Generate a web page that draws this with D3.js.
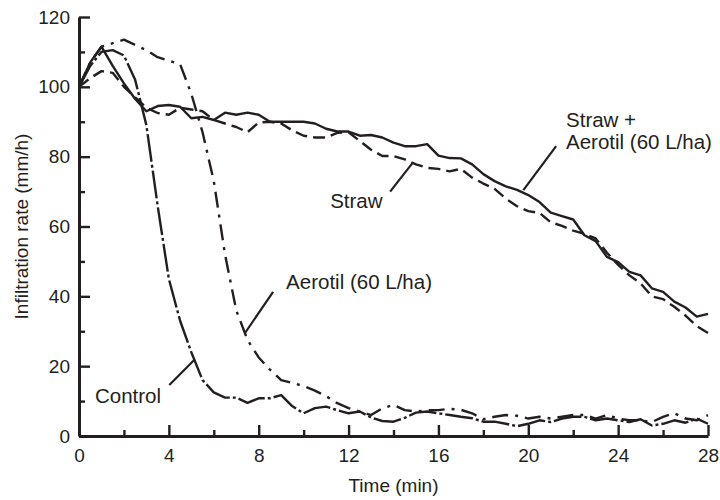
<!DOCTYPE html>
<html>
<head>
<meta charset="utf-8">
<script src="https://cdn.jsdelivr.net/npm/d3@7"></script>
<style>
  body { margin: 0; background: #fff; }
  svg { display: block; }
  text { font-family: "Liberation Sans", Arial, sans-serif; fill: #231f20; }
</style>
</head>
<body>
<div id="chart"></div>
<script>
// time (min), sampled every half minute
var times = [0, 0.5, 1, 1.5, 2, 2.5, 3, 3.5, 4, 4.5, 5, 5.5, 6, 6.5, 7, 7.5, 8, 8.5, 9, 9.5,
  10, 10.5, 11, 11.5, 12, 12.5, 13, 13.5, 14, 14.5, 15, 15.5, 16, 16.5, 17, 17.5, 18, 18.5, 19, 19.5,
  20, 20.5, 21, 21.5, 22, 22.5, 23, 23.5, 24, 24.5, 25, 25.5, 26, 26.5, 27, 27.5, 28];

// infiltration rate (mm/h)
var control = [100, 106, 110, 110.5, 109, 102, 89, 66, 45, 33, 24, 16, 12.5, 11, 11, 9.5, 10.8, 10.8, 11.7, 8.5,
  6.5, 8, 8.4, 7.4, 6.5, 7, 5.3, 4.3, 4.1, 5.2, 6.7, 7, 6.5, 6, 5.5, 5.1, 4.1, 4.1, 3.5, 2.8,
  3.5, 4.5, 4, 5, 5.5, 5.5, 4.5, 5, 4.5, 4, 4.8, 3, 3.5, 4.5, 3.8, 5, 3.5];
var aerotil = [100, 107, 111.5, 112.5, 113.5, 112, 110.5, 108.5, 107.5, 106.5, 98, 87, 73, 52, 36, 27.5, 22.5, 19, 16, 15.2,
  14.3, 13, 11.4, 9.4, 8, 7, 6, 7.9, 8.9, 7.4, 7, 7.4, 7.4, 7.8, 7.5, 6.5, 4.8, 5.5, 6, 5.8,
  5, 5.5, 5, 5.5, 6, 6, 5, 6, 5, 4.5, 4.5, 4, 5.5, 6.5, 5, 4.5, 6];
var straw = [100, 102.5, 104.5, 104, 100, 97, 94, 92.5, 92, 94, 93.5, 93, 90.5, 89.5, 88.5, 87, 89.8, 90, 89.5, 87.5,
  86, 85.5, 85.5, 86.8, 87, 84.5, 82, 80.2, 80.2, 79.2, 77.8, 76.8, 76.5, 75.8, 76.5, 74, 72.3, 70.8, 68, 65.8,
  64.4, 63.9, 61.2, 60.2, 58.8, 57.9, 56.6, 52.5, 49, 46, 43.7, 40, 39.2, 37, 34.5, 31.5, 29.5];
var strawAerotil = [100, 107, 111.5, 106, 101, 96.5, 93, 94.5, 94.8, 94.3, 91, 91.4, 90.5, 92.6, 92, 92.6, 92, 90, 90, 90,
  90, 89.5, 88, 87.2, 87.2, 86, 86.2, 85.5, 84, 83, 83, 83.6, 80.3, 79.6, 79.5, 77.8, 75, 73, 71.5, 70.5,
  69, 67, 64, 63, 62, 57.5, 55.8, 51.3, 49.8, 47, 46, 42.3, 41.3, 38.5, 36.8, 34.2, 35];

var xMajorTicks = [0, 4, 8, 12, 16, 20, 24, 28];
var xMinorTicks = [2, 6, 10, 14, 18, 22, 26];
var yMajorTicks = [0, 20, 40, 60, 80, 100, 120];
var yMinorTicks = [10, 30, 50, 70, 90, 110];

var width = 720,
  height = 500;

var x = d3.scaleLinear().domain([0, 28]).range([79, 708]);
var y = d3.scaleLinear().domain([0, 120]).range([436, 17]);

var svg = d3.select("#chart").append("svg")
  .attr("width", width)
  .attr("height", height);

var ink = "#231f20";

// series, each with its own dash style
var series = [
  {name: "Control", values: control, dash: "28,3,3,3"},
  {name: "Aerotil (60 L/ha)", values: aerotil, dash: "16,7,3,7"},
  {name: "Straw", values: straw, dash: "12,6"},
  {name: "Straw + Aerotil (60 L/ha)", values: strawAerotil, dash: null}
];

var line = d3.line()
  .x(function(d) { return x(d.t); })
  .y(function(d) { return y(d.v); });

series.forEach(function(s) {
  var pts = times.map(function(t, i) { return {t: t, v: s.values[i]}; });
  svg.append("path")
    .datum(pts)
    .attr("d", line)
    .style("fill", "none")
    .style("stroke", ink)
    .style("stroke-width", 2.4)
    .style("stroke-linejoin", "round")
    .style("stroke-dasharray", s.dash);
});

// axes (ticks point inward)
function styleAxis(g) {
  g.selectAll("line").style("stroke", ink).style("stroke-width", 2.4);
  g.selectAll("path").style("stroke", ink).style("stroke-width", 3);
  g.selectAll("text").style("font-size", "19px").style("fill", ink);
}

svg.append("g")
  .attr("transform", "translate(0,436)")
  .call(d3.axisBottom(x).tickValues(xMinorTicks).tickSize(-6).tickFormat(""))
  .call(function(g) { g.select(".domain").remove(); })
  .call(styleAxis);

svg.append("g")
  .attr("transform", "translate(0,436)")
  .call(d3.axisBottom(x).tickValues(xMajorTicks).tickSizeInner(-11).tickSizeOuter(0).tickPadding(12.5))
  .call(styleAxis);

svg.append("g")
  .attr("transform", "translate(79,0)")
  .call(d3.axisLeft(y).tickValues(yMinorTicks).tickSize(-6).tickFormat(""))
  .call(function(g) { g.select(".domain").remove(); })
  .call(styleAxis);

svg.append("g")
  .attr("transform", "translate(79,0)")
  .call(d3.axisLeft(y).tickValues(yMajorTicks).tickSizeInner(-11).tickSizeOuter(0).tickPadding(9))
  .call(styleAxis);

// axis titles
svg.append("text")
  .attr("x", (x(0) + x(28)) / 2)
  .attr("y", 492)
  .attr("text-anchor", "middle")
  .style("font-size", "19px")
  .text("Time (min)");

svg.append("text")
  .attr("transform", "translate(28," + (y(0) + y(120)) / 2 + ") rotate(-90)")
  .attr("text-anchor", "middle")
  .style("font-size", "19px")
  .text("Infiltration rate (mm/h)");

// labels with leader lines, anchored in data units
var notes = [
  {lines: ["Control"], tx: 0.71, ty: 9.45, from: [4.02, 14.6], to: [5.16, 22]},
  {lines: ["Aerotil (60 L/ha)"], tx: 9.22, ty: 42.1, from: [8.64, 41.3], to: [7.39, 29.5]},
  {lines: ["Straw"], tx: 11.18, ty: 65.3, from: [13.85, 70], to: [14.86, 78.3]},
  {lines: ["Straw +", "Aerotil (60 L/ha)"], tx: 21.68, ty: 88.5, from: [21.24, 83], to: [19.78, 70.4]}
];

notes.forEach(function(n) {
  svg.append("line")
    .attr("x1", x(n.from[0])).attr("y1", y(n.from[1]))
    .attr("x2", x(n.to[0])).attr("y2", y(n.to[1]))
    .style("stroke", ink)
    .style("stroke-width", 2.2);
  var t = svg.append("text")
    .attr("x", x(n.tx))
    .attr("y", y(n.ty))
    .style("font-size", "20.5px");
  n.lines.forEach(function(s, i) {
    t.append("tspan")
      .attr("x", x(n.tx))
      .attr("dy", i === 0 ? 0 : 22)
      .text(s);
  });
});
</script>
</body>
</html>
